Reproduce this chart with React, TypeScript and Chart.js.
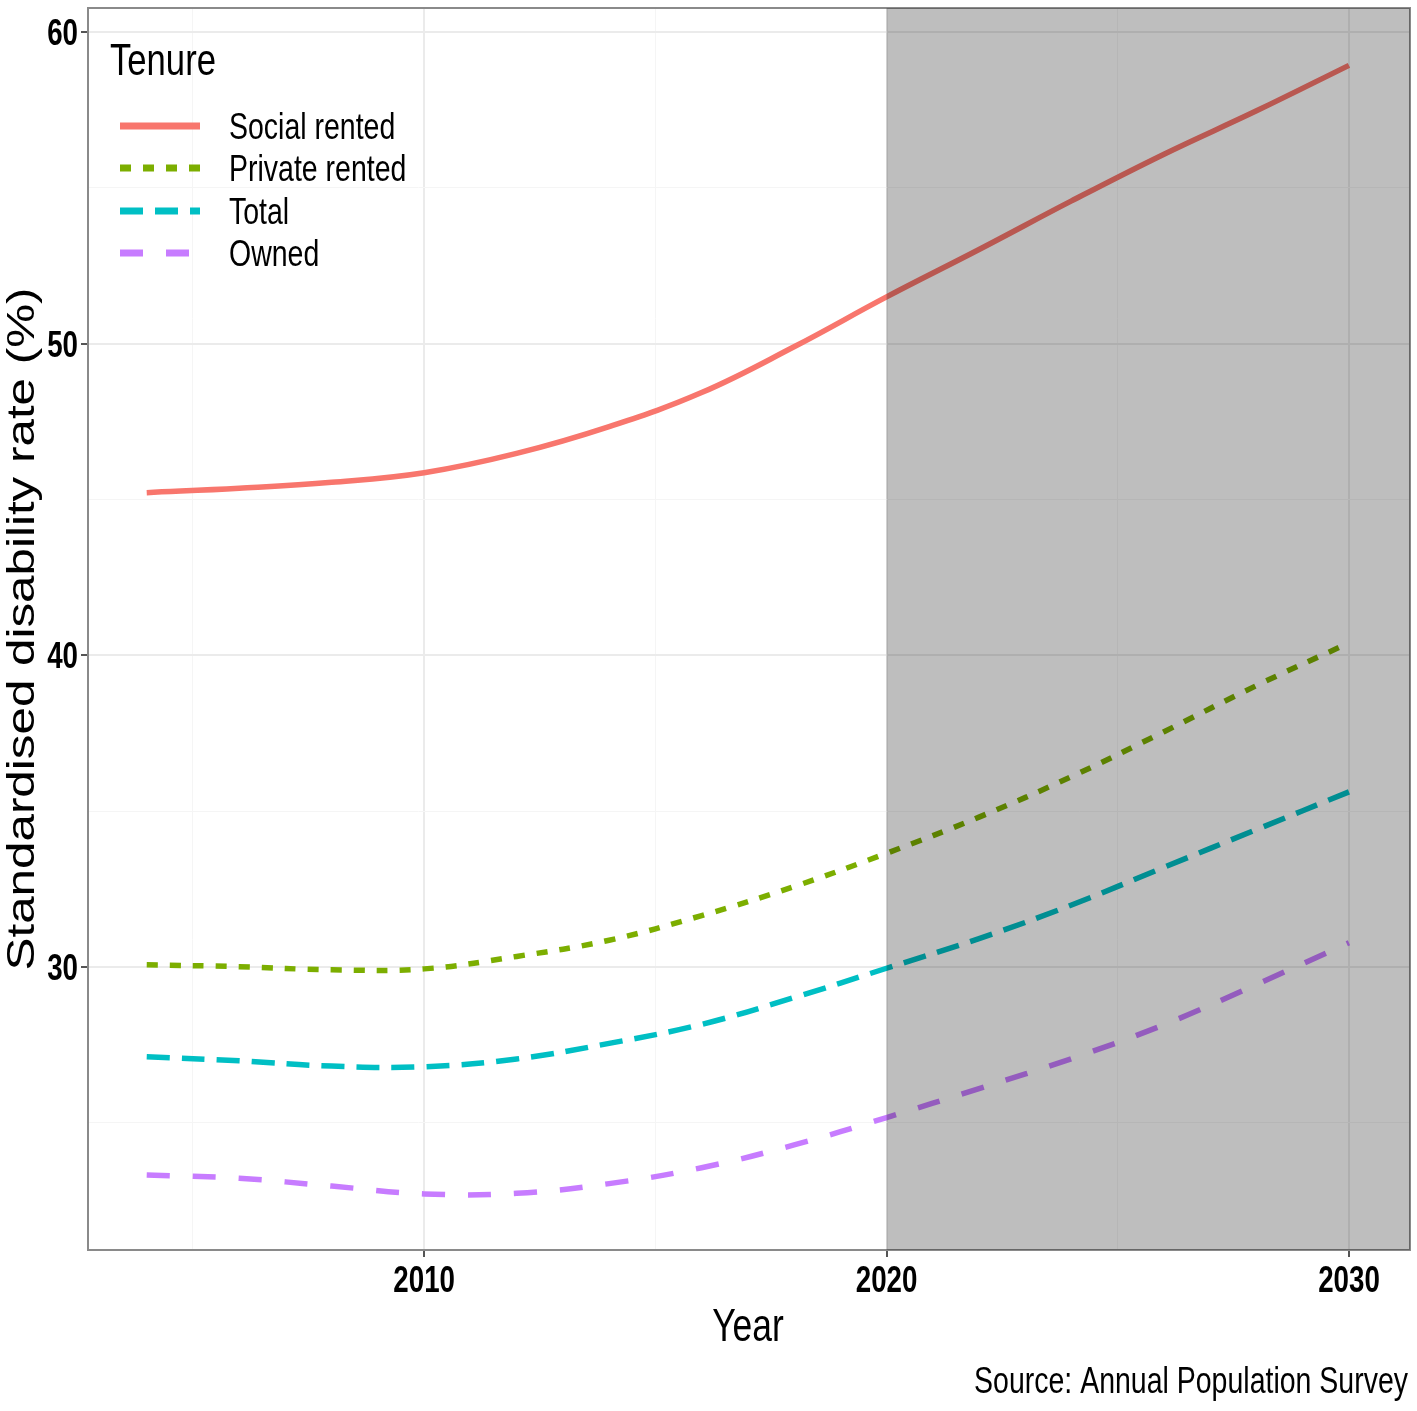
import { useEffect, useRef } from 'react';
import { Chart, registerables } from 'chart.js';
Chart.register(...registerables);

// values, every second year
const years = [2004, 2006, 2008, 2010, 2012, 2014, 2016, 2018, 2020, 2022, 2024, 2026, 2028, 2030];
const socialRented = [45.22, 45.36, 45.55, 45.86, 46.48, 47.34, 48.43, 49.9, 51.5, 53.02, 54.58, 56.08, 57.47, 58.93];
const privateRented = [30.07, 30.01, 29.91, 29.94, 30.34, 30.86, 31.65, 32.58, 33.65, 34.81, 36.11, 37.55, 39.03, 40.4];
const total = [27.12, 26.99, 26.82, 26.8, 27.05, 27.55, 28.16, 29.02, 29.96, 30.91, 31.99, 33.2, 34.41, 35.62];
const owned = [23.33, 23.22, 22.97, 22.72, 22.74, 23.05, 23.56, 24.29, 25.17, 26.1, 27.06, 28.15, 29.44, 30.78];

const seriesNames = ['Social rented', 'Private rented', 'Total', 'Owned'];
const seriesColors = ['#F8766D', '#7CAE00', '#00BFC4', '#C77CFF'];
const seriesDash = [[], [11, 12], [23, 12], [23, 23]];

const xTicks = [2005, 2010, 2015, 2020, 2025, 2030];
const yTicks = [25, 30, 35, 40, 45, 50, 55, 60];
const projectionStart = 2020;

const FONT = '"Liberation Sans", Arial, sans-serif';
// the reference text is condensed, so squeeze it horizontally
const SQUEEZE = 0.77;

const isMajor = (v: number) => v % 10 === 0;

function squeezedText(ctx: any, text: string, x: number, y: number, font: string, align: string) {
  ctx.save();
  ctx.translate(x, y);
  ctx.scale(SQUEEZE, 1);
  ctx.font = font;
  ctx.textAlign = align;
  ctx.fillText(text, 0, 0);
  ctx.restore();
}

const decorations = {
  id: 'decorations',
  afterDatasetsDraw(chart: any) {
    const { ctx, chartArea } = chart;
    const x0 = chart.scales.x.getPixelForValue(projectionStart);
    ctx.save();
    ctx.strokeStyle = '#8a8a8a';
    ctx.lineWidth = 2;
    ctx.strokeRect(chartArea.left, chartArea.top, chartArea.right - chartArea.left, chartArea.bottom - chartArea.top);
    ctx.fillStyle = 'rgba(0,0,0,0.255)';
    ctx.fillRect(x0, chartArea.top, chartArea.right - x0, chartArea.bottom - chartArea.top);
    ctx.restore();
  },
  afterDraw(chart: any) {
    const { ctx, chartArea } = chart;
    const xs = chart.scales.x;
    const ys = chart.scales.y;
    ctx.save();
    ctx.fillStyle = '#000';
    ctx.textBaseline = 'alphabetic';

    // tick labels
    const tickFont = `bold 36px ${FONT}`;
    xTicks.filter(isMajor).forEach((v) => {
      squeezedText(ctx, String(v), xs.getPixelForValue(v), chartArea.bottom + 42, tickFont, 'center');
    });
    yTicks.filter(isMajor).forEach((v) => {
      squeezedText(ctx, String(v), chartArea.left - 10, ys.getPixelForValue(v) + 13, tickFont, 'right');
    });

    // legend
    squeezedText(ctx, 'Tenure', 110, 75, `45px ${FONT}`, 'left');
    const rowY = [126, 168, 211, 253];
    seriesNames.forEach((name, i) => {
      ctx.save();
      ctx.strokeStyle = seriesColors[i];
      ctx.lineWidth = 7;
      ctx.lineCap = 'butt';
      ctx.setLineDash(seriesDash[i]);
      ctx.beginPath();
      ctx.moveTo(120, rowY[i]);
      ctx.lineTo(200, rowY[i]);
      ctx.stroke();
      ctx.restore();
      squeezedText(ctx, name, 229, rowY[i] + 13, `37px ${FONT}`, 'left');
    });

    // axis titles
    squeezedText(ctx, 'Year', 748, 1341, `46px ${FONT}`, 'center');

    ctx.save();
    ctx.translate(34, 629);
    ctx.rotate(-Math.PI / 2);
    ctx.scale(1 / SQUEEZE, 1);
    ctx.font = `38px ${FONT}`;
    ctx.textAlign = 'center';
    ctx.fillText('Standardised disability rate (%)', 0, 0);
    ctx.restore();

    // caption
    squeezedText(ctx, 'Source: Annual Population Survey', 1408, 1393, `37px ${FONT}`, 'right');
    ctx.restore();
  },
};

const App = () => {
  const canvas = useRef<HTMLCanvasElement>(null);

  useEffect(() => {
    document.body.style.margin = '0';
    const seriesValues = [socialRented, privateRented, total, owned];
    const chart = new Chart(canvas.current as HTMLCanvasElement, {
      type: 'line',
      data: {
        datasets: seriesNames.map((name, i) => ({
          label: name,
          data: years.map((yr, j) => ({ x: yr, y: seriesValues[i][j] })),
          borderColor: seriesColors[i],
          borderWidth: 5.5,
          borderDash: seriesDash[i],
          borderCapStyle: 'butt',
          pointRadius: 0,
          fill: false,
          tension: 0.4,
        })),
      },
      options: {
        animation: false,
        responsive: false,
        devicePixelRatio: 1,
        layout: { padding: { left: 0, right: 7, top: 8, bottom: 0 } },
        plugins: { legend: { display: false }, tooltip: { enabled: false } },
        scales: {
          x: {
            type: 'linear',
            min: 2002.73,
            max: 2031.32,
            afterBuildTicks: (s: any) => {
              s.ticks = xTicks.map((v) => ({ value: v }));
            },
            afterFit: (s: any) => {
              s.height = 161;
              s.paddingLeft = 0;
              s.paddingRight = 0;
            },
            border: { display: false },
            grid: {
              color: (c: any) => (isMajor(c.tick.value) ? '#ebebeb' : '#f5f5f5'),
              lineWidth: (c: any) => (isMajor(c.tick.value) ? 2 : 1),
              tickColor: (c: any) => (isMajor(c.tick.value) ? '#555' : 'rgba(0,0,0,0)'),
              tickLength: 7,
            },
            ticks: { display: false },
          },
          y: {
            type: 'linear',
            min: 20.92,
            max: 60.77,
            afterBuildTicks: (s: any) => {
              s.ticks = yTicks.map((v) => ({ value: v }));
            },
            afterFit: (s: any) => {
              s.width = 88;
              s.paddingTop = 0;
              s.paddingBottom = 0;
            },
            border: { display: false },
            grid: {
              color: (c: any) => (isMajor(c.tick.value) ? '#ebebeb' : '#f5f5f5'),
              lineWidth: (c: any) => (isMajor(c.tick.value) ? 2 : 1),
              tickColor: (c: any) => (isMajor(c.tick.value) ? '#555' : 'rgba(0,0,0,0)'),
              tickLength: 7,
            },
            ticks: { display: false },
          },
        },
      },
      plugins: [decorations],
    } as any);
    return () => chart.destroy();
  }, []);

  return (
    <div style={{ width: 1417, height: 1411, background: '#fff' }}>
      <canvas ref={canvas} width={1417} height={1411}></canvas>
    </div>
  );
};

export default App;
